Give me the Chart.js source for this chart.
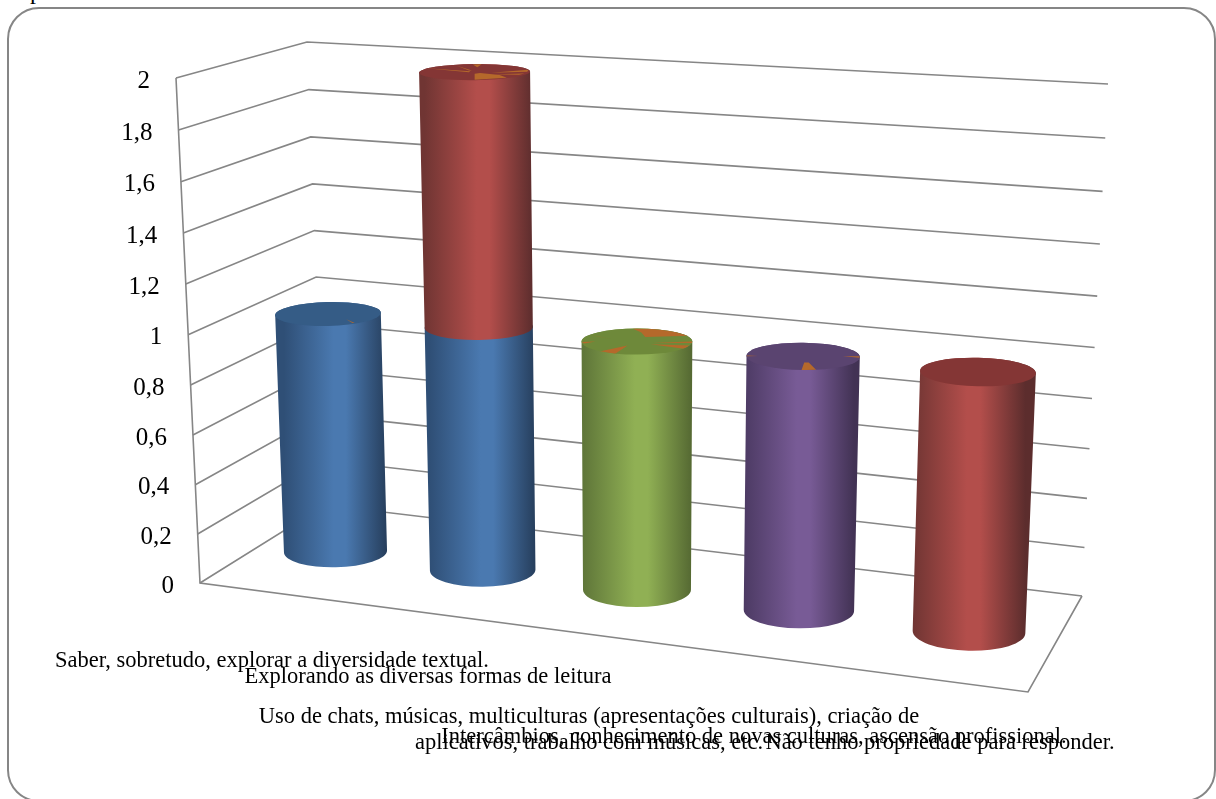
<!DOCTYPE html>
<html>
<head>
<meta charset="utf-8">
<title>Grafico</title>
<script src="https://cdn.jsdelivr.net/npm/chart.js@4"></script>
<style>
  html,body{margin:0;padding:0;background:#fff;overflow:hidden}
  #page{position:relative;width:1216px;height:799px;overflow:hidden}
  #frame{position:absolute;left:7px;top:7px;width:1205px;height:791px;border:2px solid #868686;border-radius:32px}
  #stub{position:absolute;left:30px;top:-22px;font:24px "Liberation Serif",serif;color:#000}
  canvas{position:absolute;left:0;top:0}
</style>
</head>
<body>
<div id="page">
  <div id="stub">p</div>
  <div id="frame"></div>
  <canvas id="chart" width="1216" height="799"></canvas>
</div>
<script>
const categories = [
  "Saber, sobretudo, explorar a diversidade textual.",
  "Explorando as diversas formas de leitura",
  ["Uso de chats, músicas, multiculturas (apresentações culturais), criação de", "aplicativos, trabalho com músicas, etc."],
  "Intercâmbios, conhecimento de novas culturas, ascensão profissional.",
  "Não tenho propriedade para responder."
];
const blueValues   = [1, 1, 0, 0, 0];
const redValues    = [0, 1, 0, 0, 1];
const greenValues  = [0, 0, 1, 0, 0];
const purpleValues = [0, 0, 0, 1, 0];

// main, left edge, right edge, cap shades per series
const shades = [
  ["#4a79b0", "#2f4f76", "#263e5c", "#355c86"],
  ["#b34e4b", "#703533", "#5c2d2d", "#843635"],
  ["#90b054", "#5f7639", "#566a33", "#6e893a"],
  ["#785b96", "#4c3a63", "#423254", "#5a4470"]
];
const orange = "#b5692b";

// scraps of the empty orange series showing through the caps, in cap units
const capScraps = [
  [[[.34,.48],[.5,.8],[.46,.8]]],
  [[[0,.2],[0,.95],[.58,.75],[.45,.4],[.1,.12]],
   [[-.87,-.55],[-.08,-.12],[-.1,0]],
   [[-.33,-.85],[-.05,-.2],[-.1,-.2]],
   [[-.03,-.95],[.13,-.95],[.05,-.6]],
   [[.3,.1],[.97,-.2],[.95,.05]],
   [[.35,.3],[.9,.25],[.8,.4]]],
  [[[-.08,-1],[.5,-1],[.95,-.45],[.15,-.35],[.08,-.7]],
   [[-.84,-.53],[-.45,-.18],[-.7,-.4]],
   [[-1,.02],[-.75,0],[-.95,.15]],
   [[-.72,.8],[-.17,.3],[-.4,.95]],
   [[.28,.1],[1,0],[1,.12]],
   [[.25,.2],[.95,.3],[.85,.55]]],
  [[[-.03,1.05],[.02,.45],[.1,.45],[.25,1.05]],
   [[.7,-.05],[1,-.05],[1,.05]],
   [[-1,-.02],[-.8,0],[-1,.04]]],
  []
];

const labelSpots = [[272,661],[428,677],[589,717,743],[754,737],[940,743]];

// unit square to quad, so the flat scales can be laid onto the 3D box
function quad(p00, p10, p01, p11){
  const dx1 = p10[0]-p11[0], dx2 = p01[0]-p11[0], sx = p00[0]-p10[0]+p11[0]-p01[0];
  const dy1 = p10[1]-p11[1], dy2 = p01[1]-p11[1], sy = p00[1]-p10[1]+p11[1]-p01[1];
  const det = dx1*dy2-dx2*dy1;
  const g = (sx*dy2-dx2*sy)/det, h = (dx1*sy-sx*dy1)/det;
  const a = p10[0]-p00[0]+g*p10[0], b = p01[0]-p00[0]+h*p01[0];
  const d = p10[1]-p00[1]+g*p10[1], e = p01[1]-p00[1]+h*p01[1];
  return (u,v)=>{
    const w = g*u+h*v+1;
    return [(a*u+b*v+p00[0])/w, (d*u+e*v+p00[1])/w];
  };
}
const sideWall = quad([200,583],[325,505],[176,78],[307,42]);
const backWall = quad([325,505],[1082,596],[307,42],[1108,84]);
const barPlane = quad([335.5,551.5],[969,632],[328,314],[978,372]);
const floorEdge = [[200,583],[1028,692],[1082,596]];

function capAt(chart, px, py){
  const xs = chart.scales.x, ys = chart.scales.y;
  const x0 = xs.getPixelForValue(0), x4 = xs.getPixelForValue(4);
  const y0 = ys.getPixelForValue(0), y1 = ys.getPixelForValue(1);
  return barPlane((px-x0)/(x4-x0), (py-y0)/(y1-y0));
}

function cylinderRing(chart, el, py){
  const c = capAt(chart, el.x, py);
  const l = capAt(chart, el.x-el.width/2, py), r = capAt(chart, el.x+el.width/2, py);
  // the projection overstates the growth in width towards the right
  const rx = (r[0]-l[0])/2*(1.04-.105*(c[0]-328)/650);
  return {
    x:c[0], y:c[1], rx,
    ry: rx*(.145+(c[1]-71)*.000335),
    tilt: (c[0]-650)/650*.045
  };
}

const cylinders = {
  id:"cylinders",
  beforeDatasetsDraw(chart){
    const {ctx, scales:{y}} = chart;
    const span = y.bottom-y.top;
    ctx.save();
    ctx.strokeStyle = "#868686";
    ctx.lineWidth = 1.6;
    ctx.lineJoin = "miter";
    y.ticks.forEach((t,i)=>{
      const v = (y.bottom-y.getPixelForTick(i))/span;
      const a = sideWall(0,v), b = sideWall(1,v), c = backWall(1,v);
      ctx.beginPath();
      ctx.moveTo(a[0],a[1]); ctx.lineTo(b[0],b[1]); ctx.lineTo(c[0],c[1]);
      ctx.stroke();
    });
    const top = sideWall(0,1), bottom = sideWall(0,0);
    ctx.beginPath();
    ctx.moveTo(top[0],top[1]); ctx.lineTo(bottom[0],bottom[1]);
    floorEdge.forEach(p=>ctx.lineTo(p[0],p[1]));
    ctx.stroke();

    // value labels follow the slanted front edge of the side wall
    ctx.fillStyle = "#000";
    ctx.font = '25px "Liberation Serif", serif';
    ctx.textAlign = "right";
    ctx.textBaseline = "middle";
    y.ticks.forEach((t,i)=>{
      const v = (y.bottom-y.getPixelForTick(i))/span;
      const p = sideWall(0,v);
      ctx.fillText(String(t.value).replace(".",","), p[0]-26, p[1]+3);
    });
    ctx.restore();
  },
  afterDatasetsDraw(chart){
    const {ctx} = chart;
    ctx.save();
    categories.forEach((cat,i)=>{
      let last = null;
      chart.data.datasets.forEach((ds,d)=>{
        const el = chart.getDatasetMeta(d).data[i];
        if(!ds.data[i]) return;
        const lo = cylinderRing(chart, el, el.base), hi = cylinderRing(chart, el, el.y);
        const [main,left,right] = shades[d];
        const g = ctx.createLinearGradient(lo.x-lo.rx,0,lo.x+lo.rx,0);
        g.addColorStop(0,left);
        g.addColorStop(.48,main);
        g.addColorStop(.6,main);
        g.addColorStop(1,right);
        ctx.fillStyle = g;
        ctx.beginPath();
        ctx.ellipse(lo.x,lo.y,lo.rx,lo.ry,lo.tilt,Math.PI,0,true);
        ctx.ellipse(hi.x,hi.y,hi.rx,hi.ry,hi.tilt,0,Math.PI,true);
        ctx.closePath();
        ctx.fill();
        last = {ring:hi, d};
      });
      if(!last) return;
      const {ring} = last;
      ctx.save();
      ctx.translate(ring.x,ring.y);
      ctx.rotate(ring.tilt);
      ctx.beginPath();
      ctx.ellipse(0,0,ring.rx,ring.ry,0,0,Math.PI*2);
      ctx.fillStyle = shades[last.d][3];
      ctx.fill();
      ctx.clip();
      ctx.fillStyle = orange;
      capScraps[i].forEach(pts=>{
        ctx.beginPath();
        pts.forEach(p=>ctx.lineTo(p[0]*ring.rx,p[1]*ring.ry));
        ctx.closePath();
        ctx.fill();
      });
      ctx.restore();
    });

    // category names overlap in the source layout, kept where they sit
    ctx.fillStyle = "#000";
    ctx.font = '22.5px "Liberation Serif", serif';
    ctx.textAlign = "center";
    ctx.textBaseline = "middle";
    chart.data.labels.forEach((label,i)=>{
      const spot = labelSpots[i];
      [].concat(label).forEach((line,k)=>ctx.fillText(line, spot[0], spot[k+1]));
    });
    ctx.restore();
  }
};

const clear = "rgba(0,0,0,0)";
new Chart(document.getElementById("chart"), {
  type:"bar",
  data:{
    labels:categories,
    datasets:[
      {label:"Série 1", data:blueValues, backgroundColor:clear},
      {label:"Série 2", data:redValues, backgroundColor:clear},
      {label:"Série 3", data:greenValues, backgroundColor:clear},
      {label:"Série 4", data:purpleValues, backgroundColor:clear}
    ]
  },
  options:{
    responsive:false,
    animation:false,
    events:[],
    layout:{padding:{left:240,right:130,top:78,bottom:216}},
    categoryPercentage:1,
    barPercentage:.69,
    plugins:{legend:{display:false},tooltip:{enabled:false}},
    scales:{
      x:{stacked:true,display:false},
      y:{
        stacked:true,min:0,max:2,
        afterFit(s){s.width=0},
        ticks:{stepSize:.2,display:false},
        grid:{display:false},
        border:{display:false}
      }
    }
  },
  plugins:[cylinders]
});
</script>
</body>
</html>
